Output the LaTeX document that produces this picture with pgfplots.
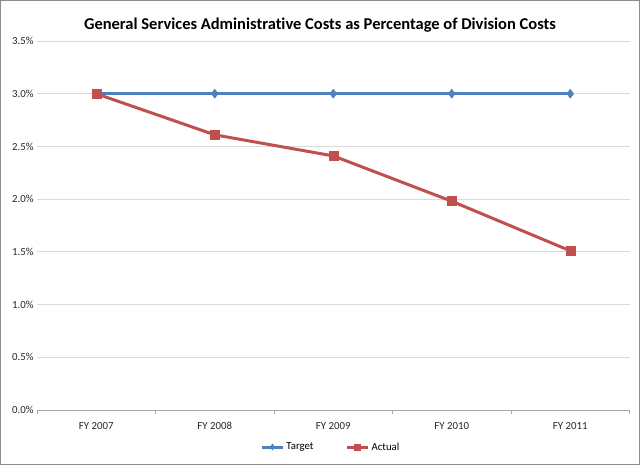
\documentclass[border=0pt]{standalone}
\usepackage{pgfplots}
\pgfplotsset{compat=1.18}
\usepackage{fontspec}
\setmainfont{Carlito}[Ligatures=NoCommon]
\definecolor{xblue}{HTML}{4F81BD}
\definecolor{xred}{HTML}{C0504D}
\definecolor{xgrid}{HTML}{D9D9D9}
\definecolor{xaxis}{HTML}{A6A6A6}
\begin{document}
\begin{tikzpicture}[x=1bp,y=1bp]
\useasboundingbox (0,0) rectangle (640,465);
\draw[color=black!45,line width=1bp] (0.5,0.5) rectangle (639.5,464.5);
\node[font=\fontsize{16.5bp}{19bp}\selectfont\bfseries] at (320,440) {General Services Administrative Costs as Percentage of Division Costs};
\begin{axis}[
  at={(37bp,55bp)}, anchor=south west,
  scale only axis, width=592.5bp, height=369bp,
  xmin=-0.5, xmax=4.5, ymin=0, ymax=3.5,
  ytick={0,0.5,...,3.5},
  yticklabel={\pgfmathprintnumber[fixed,fixed zerofill,precision=1]{\tick}\%},
  /pgf/number format/assume math mode=true,
  xtick={0,1,2,3,4},
  xticklabels={FY 2007,FY 2008,FY 2009,FY 2010,FY 2011},
  minor xtick={-0.5,0.5,1.5,2.5,3.5,4.5},
  major tick length=0pt,
  minor tick length=4bp,
  tick style={color=xaxis},
  tick align=outside,
  axis x line*=bottom,
  axis y line*=left,
  y axis line style={draw=none},
  x axis line style={color=xaxis,line width=0.8bp,-},
  ymajorgrids,
  grid style={color=xgrid,line width=0.8bp},
  ticklabel style={font=\fontsize{10.8bp}{12bp}\selectfont, text=black!85},
  yticklabel style={xshift=0bp},
  xticklabel style={yshift=-9bp},
  legend columns=2,
  legend style={at={(0.496,-0.1003)}, anchor=center, draw=none, fill=none,
    font=\fontsize{10.8bp}{12bp}\selectfont,
    /tikz/every even column/.append style={column sep=30bp}},
  legend image code/.code={
    \draw[#1,mark=none] (0bp,0bp) -- (21bp,0bp);
    \draw[#1,only marks,mark size=3bp] plot coordinates {(10.5bp,0bp)};
  },
]
\addplot[color=xblue, line width=3bp, mark=diamond*, mark size=4.5bp, mark options={solid,fill=xblue,line width=0.5bp}]
  coordinates {(0,3.0) (1,3.0) (2,3.0) (3,3.0) (4,3.0)};
\addlegendentry{Target}
\addplot[color=xred, line width=3bp, mark=square*, mark size=4.5bp, mark options={solid,fill=xred,line width=0.5bp}]
  coordinates {(0,3.0) (1,2.61) (2,2.41) (3,1.98) (4,1.51)};
\addlegendentry{Actual}
\end{axis}
\end{tikzpicture}
\end{document}
